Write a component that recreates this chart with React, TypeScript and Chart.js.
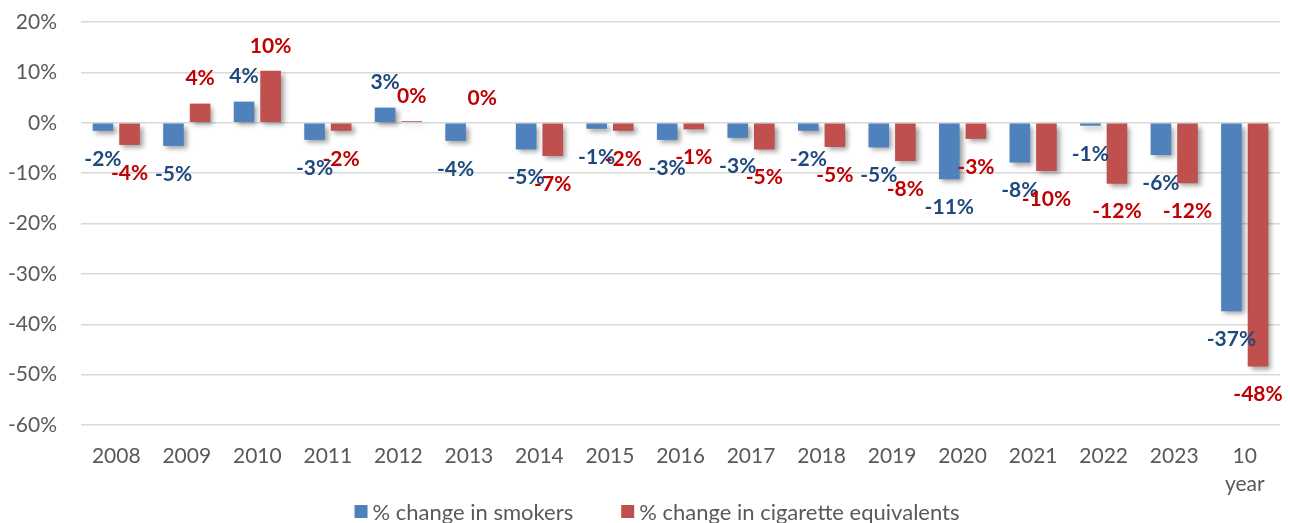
import React, { useEffect, useRef } from "react";
import { Chart, registerables } from "chart.js";

Chart.register(...registerables);

const categories: (string | string[])[] = [
  "2008", "2009", "2010", "2011", "2012", "2013", "2014", "2015", "2016",
  "2017", "2018", "2019", "2020", "2021", "2022", "2023", ["10", "year"],
];
const smokers = [-1.6, -4.6, 4.2, -3.4, 3.0, -3.6, -5.3, -1.2, -3.4, -3.0, -1.6, -4.9, -11.2, -7.9, -0.6, -6.4, -37.4];
const cigEquivalents = [-4.4, 3.8, 10.3, -1.6, 0.3, 0.0, -6.6, -1.6, -1.3, -5.3, -4.8, -7.6, -3.2, -9.6, -12.1, -12.0, -48.4];
const seriesNames = ["% change in smokers", "% change in cigarette equivalents"];
const seriesColors = ["#4F81BD", "#C0504D"];
const labelColors = ["#1F497D", "#C00000"];

const FONT = "Lato";

const shadowPlugin = {
  id: "barShadow",
  beforeDatasetDraw(chart: any) {
    const ctx = chart.ctx;
    ctx.save();
    ctx.shadowColor = "rgba(0,0,0,0.38)";
    ctx.shadowBlur = 5;
    ctx.shadowOffsetX = 3;
    ctx.shadowOffsetY = 3;
  },
  afterDatasetDraw(chart: any) {
    chart.ctx.restore();
  },
};

const labelPlugin = {
  id: "valueLabels",
  afterDraw(chart: any) {
    const ctx = chart.ctx;
    ctx.save();
    ctx.font = `bold 21px ${FONT}`;
    ctx.textAlign = "center";
    ctx.textBaseline = "middle";
    chart.data.datasets.forEach((ds: any, di: number) => {
      const meta = chart.getDatasetMeta(di);
      ctx.fillStyle = labelColors[di];
      meta.data.forEach((bar: any, i: number) => {
        const v = ds.data[i] as number;
        const r = Math.round(v);
        const txt = `${r === 0 ? 0 : r}%`;
        const y = v < 0 ? bar.y + 28 : bar.y - 25;
        ctx.fillText(txt, bar.x, y);
      });
    });
    ctx.restore();
  },
};

const legendPlugin = {
  id: "customLegend",
  afterDraw(chart: any) {
    const ctx = chart.ctx;
    ctx.save();
    ctx.font = `22px ${FONT}`;
    ctx.textBaseline = "middle";
    ctx.textAlign = "left";
    const box = 13;
    const gapBoxText = 5;
    const gapItems = 48;
    const widths = seriesNames.map((n) => ctx.measureText(n).width);
    const total = widths.reduce((a, w) => a + box + gapBoxText + w, 0) + gapItems;
    let x = 657 - total / 2;
    const yc = 511.5;
    seriesNames.forEach((n, i) => {
      ctx.fillStyle = seriesColors[i];
      ctx.fillRect(x, yc - box / 2, box, box);
      x += box + gapBoxText;
      ctx.fillStyle = "#595959";
      ctx.fillText(n, x, yc + 1);
      x += widths[i] + gapItems;
    });
    ctx.restore();
  },
};

export default function App() {
  const ref = useRef<HTMLCanvasElement | null>(null);
  useEffect(() => {
    if (!ref.current) return;
    const chart = new Chart(ref.current, {
      type: "bar",
      data: {
        labels: categories as any,
        datasets: seriesNames.map((name, i) => ({
          label: name,
          data: i === 0 ? smokers : cigEquivalents,
          backgroundColor: seriesColors[i],
          categoryPercentage: 0.754,
          barPercentage: 0.775,
        })),
      },
      options: {
        responsive: true,
        maintainAspectRatio: false,
        animation: false,
        layout: { padding: { top: 22, right: 10, left: 0, bottom: 0 } },
        scales: {
          y: {
            min: -60,
            max: 20,
            ticks: {
              stepSize: 10,
              callback: (v: any) => `${v}%`,
              color: "#595959",
              font: { family: FONT, size: 21 },
              padding: 24,
            },
            grid: { color: "#D9D9D9", lineWidth: 1.5, drawTicks: false },
            border: { display: false },
            afterFit: (s: any) => {
              s.width = 81;
              s.paddingTop = 0;
              s.paddingBottom = 0;
            },
          },
          x: {
            ticks: {
              color: "#595959",
              font: { family: FONT, size: 21, lineHeight: 1.3 },
              padding: 18,
              maxRotation: 0,
              autoSkip: false,
            },
            grid: { display: false, drawTicks: false },
            border: { display: false },
            afterFit: (s: any) => {
              s.height = 98;
            },
          },
        },
        plugins: {
          legend: { display: false },
          tooltip: { enabled: false },
        },
      },
      plugins: [shadowPlugin, labelPlugin, legendPlugin],
    });
    return () => chart.destroy();
  }, []);
  return (
    <div style={{ position: "fixed", left: 0, top: 0, width: 1290, height: 523, background: "#fff" }}>
      <canvas ref={ref} style={{ display: "block" }} />
    </div>
  );
}
